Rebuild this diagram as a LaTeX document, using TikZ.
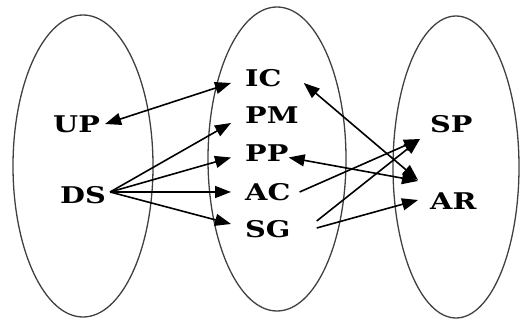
\documentclass[tikz,border=0pt]{standalone}
\usepackage{fontspec}
\setmainfont{DejaVu Serif}[FakeStretch=1.25]
\usetikzlibrary{arrows.meta}
\begin{document}
\begin{tikzpicture}[x=1pt,y=-1pt,
  lbl/.style={inner sep=0pt, anchor=west, font=\fontsize{23}{23}\selectfont\bfseries},
  setline/.style={draw=black!75, line width=1.3pt},
  tip/.tip={Triangle[length=16pt,width=12pt]},
  arr/.style={line width=1.6pt, -tip},
  darr/.style={line width=1.6pt, tip-tip}]
\useasboundingbox (0,0) rectangle (520,320);
\clip (0,0) rectangle (520,320);
% sets
\draw[setline] (83,166) ellipse [x radius=70pt, y radius=151pt];
\draw[setline] (277,159) ellipse [x radius=69pt, y radius=152pt];
\draw[setline] (456,167) ellipse [x radius=63pt, y radius=151pt];
% labels
\node[lbl] (UP) at (53,124) {UP};
\node[lbl] (DS) at (60,195) {DS};
\node[lbl] (IC) at (245,78) {IC};
\node[lbl] (PM) at (245,115) {PM};
\node[lbl] (PP) at (245,153.5) {PP};
\node[lbl] (AC) at (245,192) {AC};
\node[lbl] (SG) at (245,229) {SG};
\node[lbl] (SP) at (430,124) {SP};
\node[lbl] (AR) at (430,201) {AR};
% connectors
\draw[darr] ([xshift=5pt]UP.east) -- ([shift={(-14pt,-5pt)}]IC.west);
\draw[arr] ([shift={(4pt,3pt)}]DS.east) -- ([shift={(-14pt,-8pt)}]PM.west);
\draw[arr] ([shift={(4pt,3pt)}]DS.east) -- ([shift={(-14pt,-4pt)}]PP.west);
\draw[arr] ([shift={(4pt,3pt)}]DS.east) -- ([xshift=-14pt]AC.west);
\draw[arr] ([shift={(4pt,3pt)}]DS.east) -- ([shift={(-14pt,5pt)}]SG.west);
\draw[darr] ([shift={(22pt,-5pt)}]IC.east) -- ([shift={(-12pt,21pt)}]AR.west);
\draw[darr] ([shift={(0pt,-4pt)}]PP.east) -- ([shift={(-12pt,20pt)}]AR.west);
\draw[arr] ([xshift=9pt]AC.east) -- ([shift={(-10pt,-15pt)}]SP.west);
\draw[arr] ([shift={(26pt,8pt)}]SG.east) -- ([shift={(-10pt,-15pt)}]SP.west);
\draw[arr] ([shift={(26pt,1pt)}]SG.east) -- ([shift={(-12pt,1pt)}]AR.west);
\end{tikzpicture}
\end{document}
